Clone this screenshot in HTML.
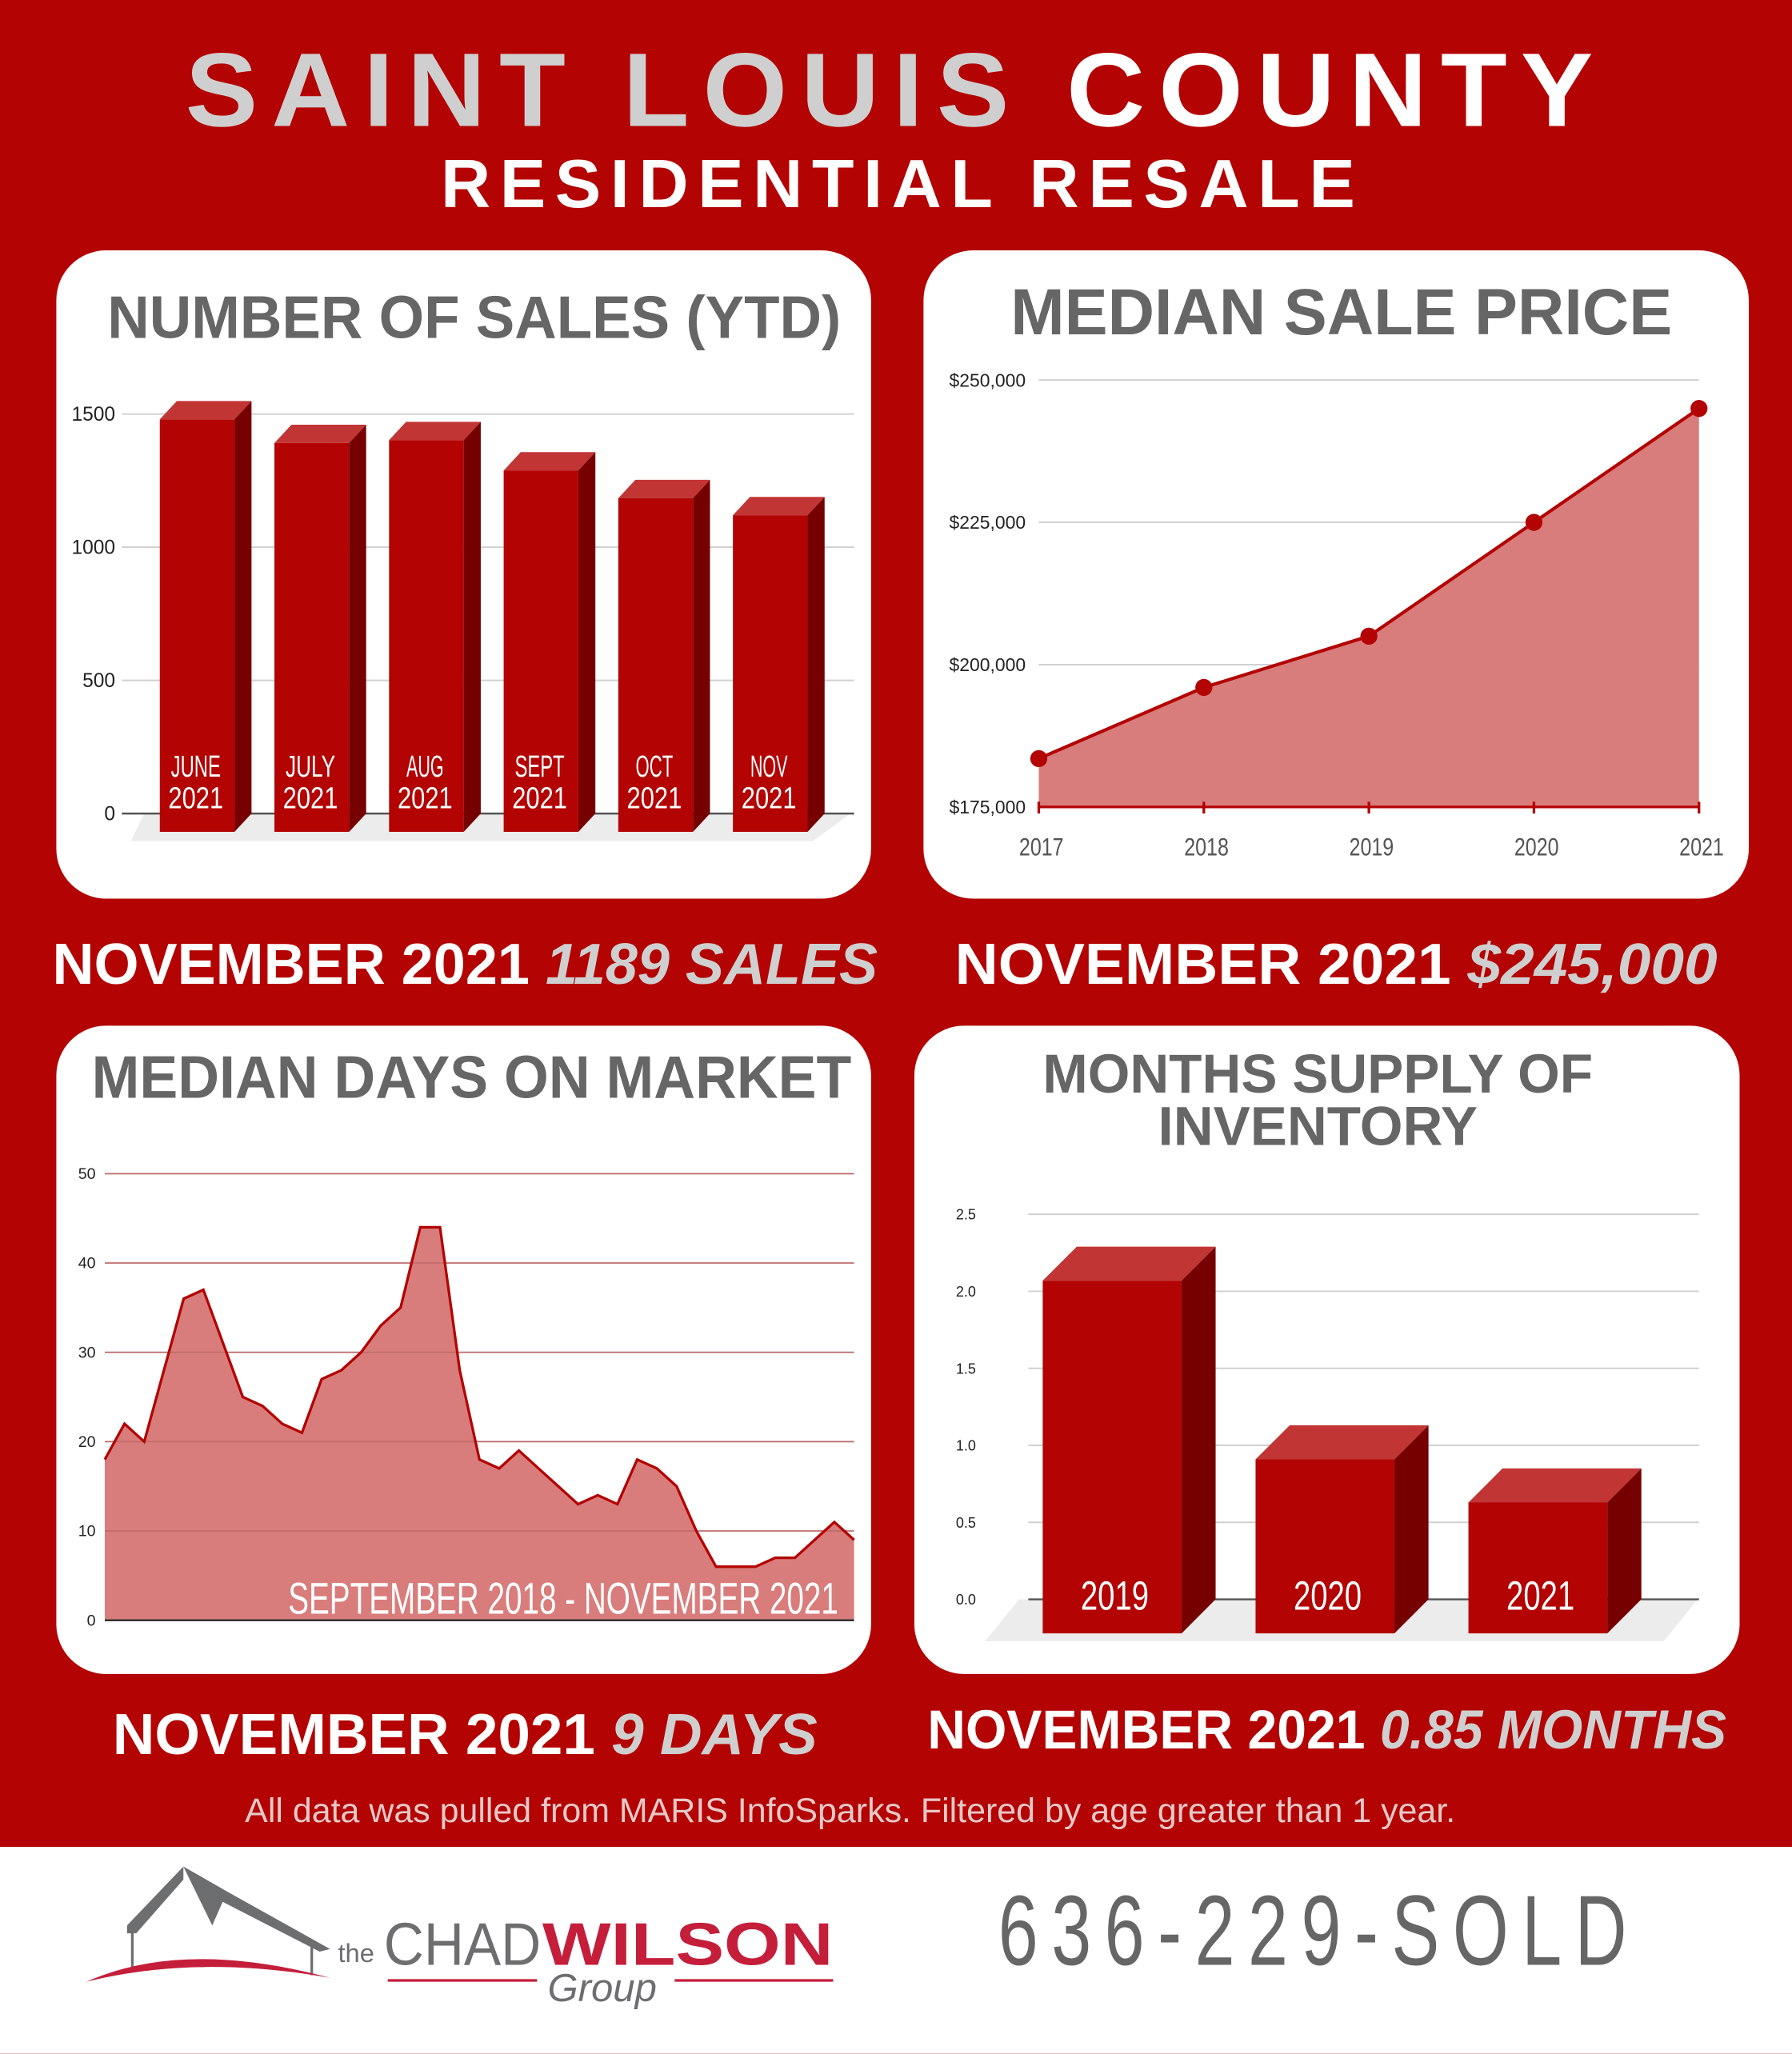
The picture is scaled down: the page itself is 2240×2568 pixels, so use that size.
<!DOCTYPE html>
<html><head><meta charset="utf-8"><style>
html,body{margin:0;padding:0;background:#b30303}
svg{display:block}
text{font-family:"Liberation Sans",sans-serif}
.cond{font-family:"Liberation Sans Narrow","Liberation Sans",sans-serif}
</style></head><body>
<svg id="root" width="2240" height="2568" viewBox="0 0 1368 1568" xmlns="http://www.w3.org/2000/svg">
<rect x="0" y="0" width="1368" height="1568" fill="#b30303"/>
<text x="684" y="96" text-anchor="middle" font-size="80" font-weight="bold" letter-spacing="10" textLength="1085" lengthAdjust="spacingAndGlyphs"><tspan fill="#cfcfcf">SAINT LOUIS </tspan><tspan fill="#fff">COUNTY</tspan></text>
<text x="689" y="158" text-anchor="middle" font-size="52" font-weight="bold" fill="#fff" letter-spacing="7" textLength="705" lengthAdjust="spacingAndGlyphs">RESIDENTIAL RESALE</text>

<rect x="43" y="191" width="622" height="495" rx="38" fill="#fff"/>
<rect x="705" y="191" width="630" height="495" rx="38" fill="#fff"/>
<rect x="43" y="783" width="622" height="495" rx="38" fill="#fff"/>
<rect x="698" y="783" width="630" height="495" rx="38" fill="#fff"/>

<text x="362" y="258" text-anchor="middle" font-size="46" font-weight="bold" fill="#666" textLength="560" lengthAdjust="spacingAndGlyphs">NUMBER OF SALES (YTD)</text>
<text x="1024" y="255" text-anchor="middle" font-size="50" font-weight="bold" fill="#666" textLength="505" lengthAdjust="spacingAndGlyphs">MEDIAN SALE PRICE</text>
<text x="360" y="838" text-anchor="middle" font-size="46" font-weight="bold" fill="#666" textLength="580" lengthAdjust="spacingAndGlyphs">MEDIAN DAYS ON MARKET</text>
<text x="1006" y="834" text-anchor="middle" font-size="42" font-weight="bold" fill="#666" textLength="420" lengthAdjust="spacingAndGlyphs">MONTHS SUPPLY OF</text>
<text x="1006" y="874" text-anchor="middle" font-size="42" font-weight="bold" fill="#666" textLength="244" lengthAdjust="spacingAndGlyphs">INVENTORY</text>

<g id="sales"></g><g id="price"></g><g id="days"></g><g id="inv"></g>

<text x="355" y="751" text-anchor="middle" font-size="44" font-weight="bold" textLength="630" lengthAdjust="spacingAndGlyphs"><tspan fill="#fff">NOVEMBER 2021 </tspan><tspan fill="#cfcfcf" font-style="italic">1189 SALES</tspan></text>
<text x="1020" y="751" text-anchor="middle" font-size="44" font-weight="bold" textLength="582" lengthAdjust="spacingAndGlyphs"><tspan fill="#fff">NOVEMBER 2021 </tspan><tspan fill="#cfcfcf" font-style="italic">$245,000</tspan></text>
<text x="355" y="1339" text-anchor="middle" font-size="44" font-weight="bold" textLength="538" lengthAdjust="spacingAndGlyphs"><tspan fill="#fff">NOVEMBER 2021 </tspan><tspan fill="#cfcfcf" font-style="italic">9 DAYS</tspan></text>
<text x="1013" y="1335" text-anchor="middle" font-size="42" font-weight="bold" textLength="610" lengthAdjust="spacingAndGlyphs"><tspan fill="#fff">NOVEMBER 2021 </tspan><tspan fill="#cfcfcf" font-style="italic">0.85 MONTHS</tspan></text>
<text x="649" y="1391" text-anchor="middle" font-size="26" fill="#e8c8c8" textLength="924" lengthAdjust="spacingAndGlyphs">All data was pulled from MARIS InfoSparks. Filtered by age greater than 1 year.</text>

<rect x="0" y="1410" width="1368" height="158" fill="#fff"/>
<g>
<polygon points="140,1425 97,1470 97,1476 104,1476 140,1435" fill="#6d6e70"/>
<polygon points="140,1425 175,1445 252,1488 244,1490 170,1452 162,1470" fill="#6d6e70"/>
<line x1="101" y1="1474" x2="101" y2="1502" stroke="#6d6e70" stroke-width="2"/>
<line x1="238" y1="1485" x2="238" y2="1508" stroke="#6d6e70" stroke-width="2"/>
<path d="M66,1513 Q140,1480 252,1510 Q150,1492 66,1513Z" fill="#c41e3a"/>
<text x="258" y="1498" font-size="20" fill="#6d6e70">the</text>
<text x="293" y="1500" font-size="46" fill="#6d6e70" textLength="120" lengthAdjust="spacingAndGlyphs">CHAD</text>
<text x="414" y="1500" font-size="46" font-weight="bold" fill="#c41e3a" textLength="222" lengthAdjust="spacingAndGlyphs">WILSON</text>
<line x1="296" y1="1512" x2="410" y2="1512" stroke="#c41e3a" stroke-width="2"/>
<line x1="515" y1="1512" x2="636" y2="1512" stroke="#c41e3a" stroke-width="2"/>
<text x="418" y="1528" font-size="30" font-style="italic" fill="#6d6e70" font-family="Liberation Serif,serif">Group</text>
</g>
<text x="1007" y="1500" text-anchor="middle" font-size="76" fill="#666" letter-spacing="14" textLength="490" lengthAdjust="spacingAndGlyphs">636-229-SOLD</text>
</svg>
<script>
// ---- sales chart data
const salesCats = ["JUNE","JULY","AUG","SEPT","OCT","NOV"];
const salesVals = [1549,1460,1471,1357,1253,1189];
const salesTicks = [0,500,1000,1500];
// ---- price chart data
const priceYears = ["2017","2018","2019","2020","2021"];
const priceVals = [183500,196000,205000,225000,245000];
const priceTicks = [175000,200000,225000,250000];
const priceTickLabels = ["$175,000","$200,000","$225,000","$250,000"];
// ---- days chart data
const daysVals = [18,22,20,28,36,37,31,25,24,22,21,27,28,30,33,35,44,44,28,18,17,19,17,15,13,14,13,18,17,15,10,6,6,6,7,7,9,11,9];
const daysTicks = [0,10,20,30,40,50];
// ---- inventory chart data
const invCats = ["2019","2020","2021"];
const invVals = [2.29,1.13,0.85];
const invTicks = ["0.0","0.5","1.0","1.5","2.0","2.5"];

const NS="http://www.w3.org/2000/svg";
function mk(parent,tag,attrs,txt){const e=document.createElementNS(NS,tag);for(const k in attrs)e.setAttribute(k,attrs[k]);if(txt!==undefined)e.textContent=txt;parent.appendChild(e);return e;}

// SALES
(function(){
const g=document.getElementById('sales');
const y=v=>621-v*(305/1500);
const x=i=>122+i*87.5;
const dx=13,dy=14,w=57;
mk(g,'polygon',{points:`100,642 ${x(5)+w+4},642 ${x(5)+w+dx+20},621 110,621`,fill:'#ececec'});
salesTicks.forEach(t=>{
 const l=mk(g,'line',{x1:93,x2:652,y1:y(t),y2:y(t),stroke:t===0?'#555':'#d0d0d0','stroke-width':t===0?1.5:1.2});
 
 
 const tx=mk(g,'text',{x:88,y:y(t)+5,'text-anchor':'end','font-size':15,fill:'#222'},String(t));
 
 
});
salesVals.forEach((v,i)=>{
 const bx=x(i),top=y(v)+dy,bot=635;
 const b=mk(g,'g',{});
 
 
 mk(b,'polygon',{points:`${bx},${top} ${bx+dx},${top-dy} ${bx+w+dx},${top-dy} ${bx+w},${top}`,fill:'#c23535'});
 mk(b,'polygon',{points:`${bx+w},${top} ${bx+w+dx},${top-dy} ${bx+w+dx},${bot-dy} ${bx+w},${bot}`,fill:'#760000'});
 mk(b,'rect',{x:bx,y:top,width:w,height:bot-top,fill:'#b30303'});
 mk(b,'text',{x:bx+w/2-1,y:593,'text-anchor':'middle','font-size':23,fill:'#fff',class:'cond',textLength:String(salesCats[i].length*9.5),lengthAdjust:'spacingAndGlyphs'},salesCats[i]);
 mk(b,'text',{x:bx+w/2-1,y:617,'text-anchor':'middle','font-size':23,fill:'#fff',class:'cond',textLength:'42',lengthAdjust:'spacingAndGlyphs'},'2021');
});
})();

// PRICE
(function(){
const g=document.getElementById('price');
const y=v=>616-(v-175000)*(326/75000);
const x=i=>793+i*126;
priceTicks.forEach((t,i)=>{
 const l=mk(g,'line',{x1:793,x2:1297,y1:y(t),y2:y(t),stroke:'#d0d0d0','stroke-width':1.2});
 
 
 const tx=mk(g,'text',{x:783,y:y(t)+5,'text-anchor':'end','font-size':14,fill:'#222'},priceTickLabels[i]);
 
 
});
let pts=priceVals.map((v,i)=>`${x(i)},${y(v)}`).join(' ');
const a=mk(g,'polygon',{points:`${x(0)},${y(175000)} ${pts} ${x(4)},${y(175000)}`,fill:'#d97c7c'});


const ln=mk(g,'polyline',{points:pts,fill:'none',stroke:'#b30303','stroke-width':2.5});


mk(g,'line',{x1:793,x2:1297,y1:616,y2:616,stroke:'#b30303','stroke-width':2});
priceVals.forEach((v,i)=>{
 mk(g,'line',{x1:x(i),x2:x(i),y1:612,y2:621,stroke:'#b30303','stroke-width':2});
 const c=mk(g,'circle',{cx:x(i),cy:y(v),r:6.5,fill:'#b30303'});
 
 
 const t=mk(g,'text',{x:x(i)+2,y:653,'text-anchor':'middle','font-size':19,fill:'#555',class:'cond',textLength:'34',lengthAdjust:'spacingAndGlyphs'},priceYears[i]);
 
 
});
})();

// DAYS
(function(){
const g=document.getElementById('days');
const y=v=>1237-v*(341/50);
const x=i=>80+i*(572/(daysVals.length-1));
daysTicks.forEach(t=>{
 const l=mk(g,'line',{x1:80,x2:652,y1:y(t),y2:y(t),stroke:'#d0d0d0','stroke-width':1.2});
 
 
 const tx=mk(g,'text',{x:73,y:y(t)+4,'text-anchor':'end','font-size':12,fill:'#222'},String(t));
 
 
});
let pts=daysVals.map((v,i)=>`${x(i)},${y(v)}`).join(' ');
const a=mk(g,'polygon',{points:`${x(0)},${y(0)} ${pts} ${x(daysVals.length-1)},${y(0)}`,fill:'#d97c7c'});


daysTicks.slice(1).forEach(t=>mk(g,'line',{x1:80,x2:652,y1:y(t),y2:y(t),stroke:'#c06a6a','stroke-width':1}));
const ln=mk(g,'polyline',{points:pts,fill:'none',stroke:'#b30303','stroke-width':2});


mk(g,'line',{x1:80,x2:652,y1:1237,y2:1237,stroke:'#333','stroke-width':1.5});
const t=mk(g,'text',{x:640,y:1232,'text-anchor':'end','font-size':34,fill:'#fff',class:'cond',textLength:'420',lengthAdjust:'spacingAndGlyphs'},'SEPTEMBER 2018 - NOVEMBER 2021');


})();

// INVENTORY
(function(){
const g=document.getElementById('inv');
const y=v=>1221-v*(294/2.5);
const x=i=>796+i*162.5;
const dx=26,dy=26,w=106;
mk(g,'polygon',{points:`752,1253 1270,1253 1296,1221 778,1221`,fill:'#ececec'});
invTicks.forEach(t=>{
 const v=parseFloat(t);
 const l=mk(g,'line',{x1:785,x2:1297,y1:y(v),y2:y(v),stroke:v===0?'#555':'#d0d0d0','stroke-width':v===0?1.5:1.2});
 
 
 const tx=mk(g,'text',{x:745,y:y(v)+4,'text-anchor':'end','font-size':11,fill:'#222'},t);
 
 
});
invVals.forEach((v,i)=>{
 const bx=x(i),top=y(v)+dy,bot=1247;
 const b=mk(g,'g',{});
 
 
 mk(b,'polygon',{points:`${bx},${top} ${bx+dx},${top-dy} ${bx+w+dx},${top-dy} ${bx+w},${top}`,fill:'#c23535'});
 mk(b,'polygon',{points:`${bx+w},${top} ${bx+w+dx},${top-dy} ${bx+w+dx},${bot-dy} ${bx+w},${bot}`,fill:'#760000'});
 mk(b,'rect',{x:bx,y:top,width:w,height:bot-top,fill:'#b30303'});
 mk(b,'text',{x:bx+w/2+2,y:1229,'text-anchor':'middle','font-size':31,fill:'#fff',class:'cond',textLength:'52',lengthAdjust:'spacingAndGlyphs'},invCats[i]);
});
})();
</script>
</body></html>
